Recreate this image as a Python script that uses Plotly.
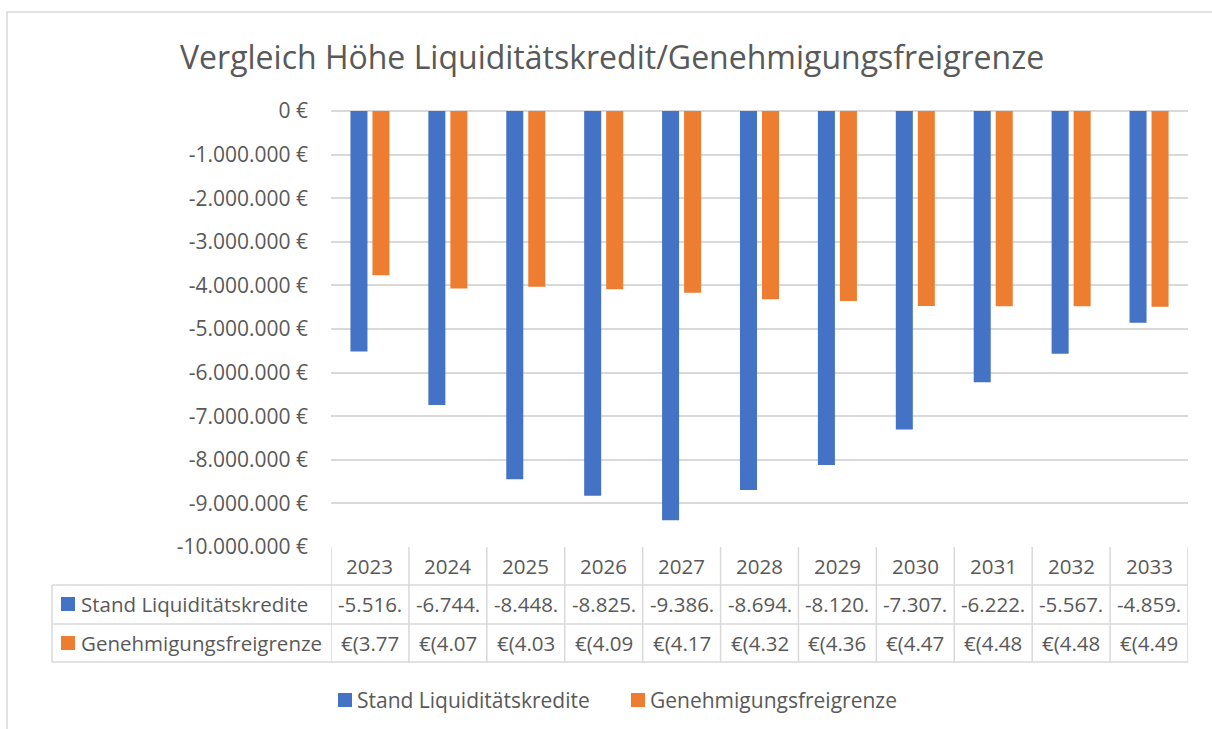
import plotly.graph_objects as go

years = ["2023", "2024", "2025", "2026", "2027", "2028", "2029", "2030", "2031", "2032", "2033"]
stand = [-5516000, -6744000, -8448000, -8825000, -9386000, -8694000, -8120000, -7307000, -6222000, -5567000, -4859000]
grenze = [-3770000, -4070000, -4030000, -4090000, -4170000, -4320000, -4360000, -4470000, -4480000, -4480000, -4490000]
series_names = ["Stand Liquiditätskredite", "Genehmigungsfreigrenze"]
title_text = "Vergleich Höhe Liquiditätskredit/Genehmigungsfreigrenze"
y_ticks = [0, -1000000, -2000000, -3000000, -4000000, -5000000, -6000000, -7000000, -8000000, -9000000, -10000000]

BLUE = "#4472C4"
ORANGE = "#ED7D31"
TXT = "#595959"
LINE = "#d9d9d9"
FONT = "Open Sans"
W, H = 1212, 729


def de(n):
    return f"{abs(int(n)):,}".replace(",", ".")


def eur(n):
    return ("-" if n < 0 else "") + de(n) + " €"


def acct(n):
    return ("€(" + de(n) + ")") if n < 0 else ("€" + de(n))


def px(x):
    return x / W


def py(y):
    return 1 - y / H


x0p, x1p = 331, 1188
y0p, y1p = 111, 547

fig = go.Figure()
fig.add_trace(go.Bar(x=years, y=stand, name=series_names[0], marker=dict(color=BLUE, line=dict(width=0))))
fig.add_trace(go.Bar(x=years, y=grenze, name=series_names[1], marker=dict(color=ORANGE, line=dict(width=0))))

shapes = []
annotations = []

# outer chart border
shapes.append(dict(type="rect", xref="paper", yref="paper", x0=px(7), x1=px(1260), y0=py(780), y1=py(12),
                   line=dict(color=LINE, width=1.5), fillcolor="rgba(0,0,0,0)", layer="below"))

# data table grid
row_y = [547, 585, 624, 662]
for i in range(len(years) + 1):
    shapes.append(dict(type="line", xref="x", yref="paper", x0=i - 0.5, x1=i - 0.5, y0=py(662), y1=py(547),
                       line=dict(color=LINE, width=1.5)))
shapes.append(dict(type="line", xref="paper", yref="paper", x0=px(52), x1=px(52), y0=py(662), y1=py(585),
                   line=dict(color=LINE, width=1.5)))
for ry in row_y[1:]:
    shapes.append(dict(type="line", xref="paper", yref="paper", x0=px(52), x1=px(x1p), y0=py(ry), y1=py(ry),
                       line=dict(color=LINE, width=1.5)))

tfont = dict(family=FONT, size=20.5, color=TXT)
row_centers = [566, 604, 643]
for i, yr in enumerate(years):
    annotations.append(dict(x=i, xref="x", y=py(row_centers[0]), yref="paper", text=yr, showarrow=False,
                            font=tfont, xanchor="center", yanchor="middle"))
    annotations.append(dict(x=i, xref="x", y=py(row_centers[1]), yref="paper", text=eur(stand[i])[:7],
                            showarrow=False, font=tfont, xanchor="center", yanchor="middle"))
    annotations.append(dict(x=i, xref="x", y=py(row_centers[2]), yref="paper", text=acct(grenze[i])[:6],
                            showarrow=False, font=tfont, xanchor="center", yanchor="middle"))

# table legend keys
for k, (col, name) in enumerate(zip([BLUE, ORANGE], series_names)):
    cy = row_centers[k + 1]
    shapes.append(dict(type="rect", xref="paper", yref="paper", x0=px(61), x1=px(75), y0=py(cy + 7), y1=py(cy - 7),
                       fillcolor=col, line=dict(width=0)))
    annotations.append(dict(x=px(79), xref="paper", y=py(cy), yref="paper", text=name, showarrow=False,
                            font=tfont, xanchor="left", yanchor="middle"))

# bottom legend
leg_y = 700
lfont = dict(family=FONT, size=21, color=TXT)
for col, name, sx in zip([BLUE, ORANGE], series_names, [338, 631]):
    shapes.append(dict(type="rect", xref="paper", yref="paper", x0=px(sx), x1=px(sx + 14), y0=py(leg_y + 7),
                       y1=py(leg_y - 7), fillcolor=col, line=dict(width=0)))
    annotations.append(dict(x=px(sx + 17), xref="paper", y=py(leg_y), yref="paper", text=name, showarrow=False,
                            font=lfont, xanchor="left", yanchor="middle"))

# title
annotations.append(dict(x=px(612), xref="paper", y=py(56), yref="paper", text=title_text, showarrow=False,
                        font=dict(family=FONT, size=32, color=TXT), xanchor="center", yanchor="middle"))

fig.update_layout(
    width=W, height=H,
    margin=dict(l=0, r=0, t=0, b=0, pad=0, autoexpand=False),
    paper_bgcolor="white", plot_bgcolor="white",
    barmode="group", bargap=0.435, bargroupgap=0.227,
    showlegend=False,
    shapes=shapes, annotations=annotations,
    font=dict(family=FONT, color=TXT),
    xaxis=dict(domain=[px(x0p), px(x1p)], range=[-0.5, len(years) - 0.5], showticklabels=False,
               showgrid=False, zeroline=False, showline=False, fixedrange=True, automargin=False),
    yaxis=dict(domain=[py(y1p), py(y0p)], range=[-10000000, 0], tickvals=y_ticks,
               ticktext=[eur(v) if v != 0 else "0 €" for v in y_ticks],
               tickfont=dict(family=FONT, size=21, color=TXT), ticklabelstandoff=22,
               showgrid=True, gridcolor=LINE, gridwidth=1.5, zeroline=True, zerolinecolor=LINE,
               zerolinewidth=1.5, showline=False, ticks="", fixedrange=True, automargin=False),
)

fig.write_html("out.html", config={"displayModeBar": False, "responsive": False},
               post_script="document.body.style.margin='0';")
